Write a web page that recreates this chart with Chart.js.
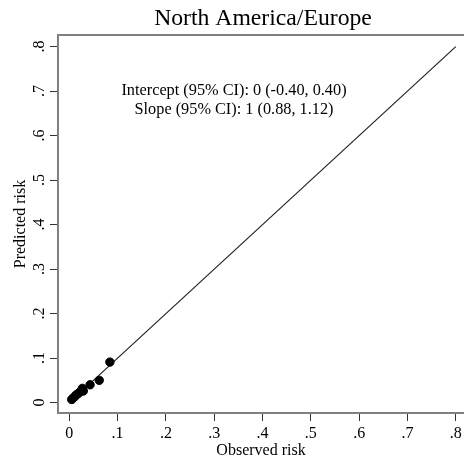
<!DOCTYPE html>
<html>
<head>
<meta charset="utf-8">
<script src="https://cdn.jsdelivr.net/npm/chart.js@4.4.1/dist/chart.umd.min.js"></script>
<style>
  html, body { margin: 0; padding: 0; background: #fff; }
  #wrap { width: 464px; height: 464px; }
</style>
</head>
<body>
<div id="wrap"><canvas id="calib" width="464" height="464"></canvas></div>
<script>
// Calibration data: observed vs predicted risk by group
const observed  = [0.005, 0.008, 0.011, 0.014, 0.018, 0.022, 0.027, 0.029, 0.043, 0.062, 0.084];
const predicted = [0.007, 0.010, 0.013, 0.017, 0.020, 0.024, 0.032, 0.026, 0.040, 0.050, 0.091];

// Reference line of perfect calibration
const refLineX = [0, 0.8];
const refLineY = [0, 0.8];

const tickValues = [0, 0.1, 0.2, 0.3, 0.4, 0.5, 0.6, 0.7, 0.8];
const tickLabels = ['0', '.1', '.2', '.3', '.4', '.5', '.6', '.7', '.8'];

const titleText = 'North America/Europe';
const statsLines = ['Intercept (95% CI): 0 (-0.40, 0.40)', 'Slope (95% CI): 1 (0.88, 1.12)'];

const serif = '"Liberation Serif", "DejaVu Serif", serif';
const axisGray = '#808080';

function tickLabel(value) {
  const i = tickValues.findIndex(t => Math.abs(t - value) < 1e-9);
  return i >= 0 ? tickLabels[i] : '';
}

function fixedTicks(scale) {
  scale.ticks = tickValues.map(v => ({ value: v }));
}

// no extra room for overhanging edge labels
function noEdgePadding(scale) {
  scale.paddingLeft = 0;
  scale.paddingRight = 0;
  scale.paddingTop = 0;
  scale.paddingBottom = 0;
}

// Title, stats text and the top frame line
const decorations = {
  id: 'decorations',
  afterDraw(chart) {
    const { ctx, chartArea } = chart;
    ctx.save();
    ctx.strokeStyle = axisGray;
    ctx.lineWidth = 2;
    ctx.beginPath();
    ctx.moveTo(chartArea.left - 1, chartArea.top);
    ctx.lineTo(chartArea.right, chartArea.top);
    ctx.stroke();

    ctx.fillStyle = '#000';
    ctx.textAlign = 'center';
    ctx.textBaseline = 'middle';
    ctx.font = '23.7px ' + serif;
    ctx.fillText(titleText, 263, 19);

    ctx.font = '16.3px ' + serif;
    ctx.fillText(statsLines[0], 234, 91);
    ctx.fillText(statsLines[1], 234, 110);
    ctx.restore();
  }
};

const ctx = document.getElementById('calib').getContext('2d');
new Chart(ctx, {
  type: 'scatter',
  data: {
    datasets: [
      {
        type: 'line',
        data: refLineX.map((x, i) => ({ x: x, y: refLineY[i] })),
        borderColor: '#222',
        borderWidth: 1.2,
        pointRadius: 0,
        fill: false,
        order: 2
      },
      {
        data: observed.map((x, i) => ({ x: x, y: predicted[i] })),
        backgroundColor: '#000',
        borderColor: '#000',
        pointRadius: 4.2,
        pointHoverRadius: 4.2,
        order: 1
      }
    ]
  },
  options: {
    responsive: false,
    animation: false,
    layout: { autoPadding: false, padding: { top: 35, right: 0, left: 0, bottom: 0 } },
    plugins: {
      legend: { display: false },
      title: { display: false },
      tooltip: { enabled: false }
    },
    scales: {
      x: {
        type: 'linear',
        min: -0.0234,
        max: 0.817,
        afterBuildTicks: fixedTicks,
        afterFit(scale) { scale.height = 51; noEdgePadding(scale); },
        grid: { drawOnChartArea: false, drawTicks: true, tickLength: 8, tickColor: '#333', tickWidth: 1 },
        border: { color: axisGray, width: 2 },
        ticks: {
          callback: tickLabel,
          color: '#000',
          font: { family: serif, size: 16 },
          padding: 3,
          maxRotation: 0,
          autoSkip: false
        },
        title: {
          display: true,
          text: 'Observed risk',
          color: '#000',
          font: { family: serif, size: 16 },
          padding: { top: 0, bottom: 4 }
        }
      },
      y: {
        type: 'linear',
        min: -0.0234,
        max: 0.826,
        afterBuildTicks: fixedTicks,
        afterFit(scale) { scale.width = 58; noEdgePadding(scale); },
        grid: { drawOnChartArea: false, drawTicks: true, tickLength: 8, tickColor: '#333', tickWidth: 1 },
        border: { color: axisGray, width: 2 },
        ticks: {
          callback: tickLabel,
          color: '#000',
          font: { family: serif, size: 16 },
          padding: 4,
          minRotation: 90,
          maxRotation: 90,
          crossAlign: 'center',
          autoSkip: false
        },
        title: {
          display: true,
          text: 'Predicted risk',
          color: '#000',
          font: { family: serif, size: 16 },
          padding: { top: 11, bottom: 0 }
        }
      }
    }
  },
  plugins: [decorations]
});
</script>
</body>
</html>
